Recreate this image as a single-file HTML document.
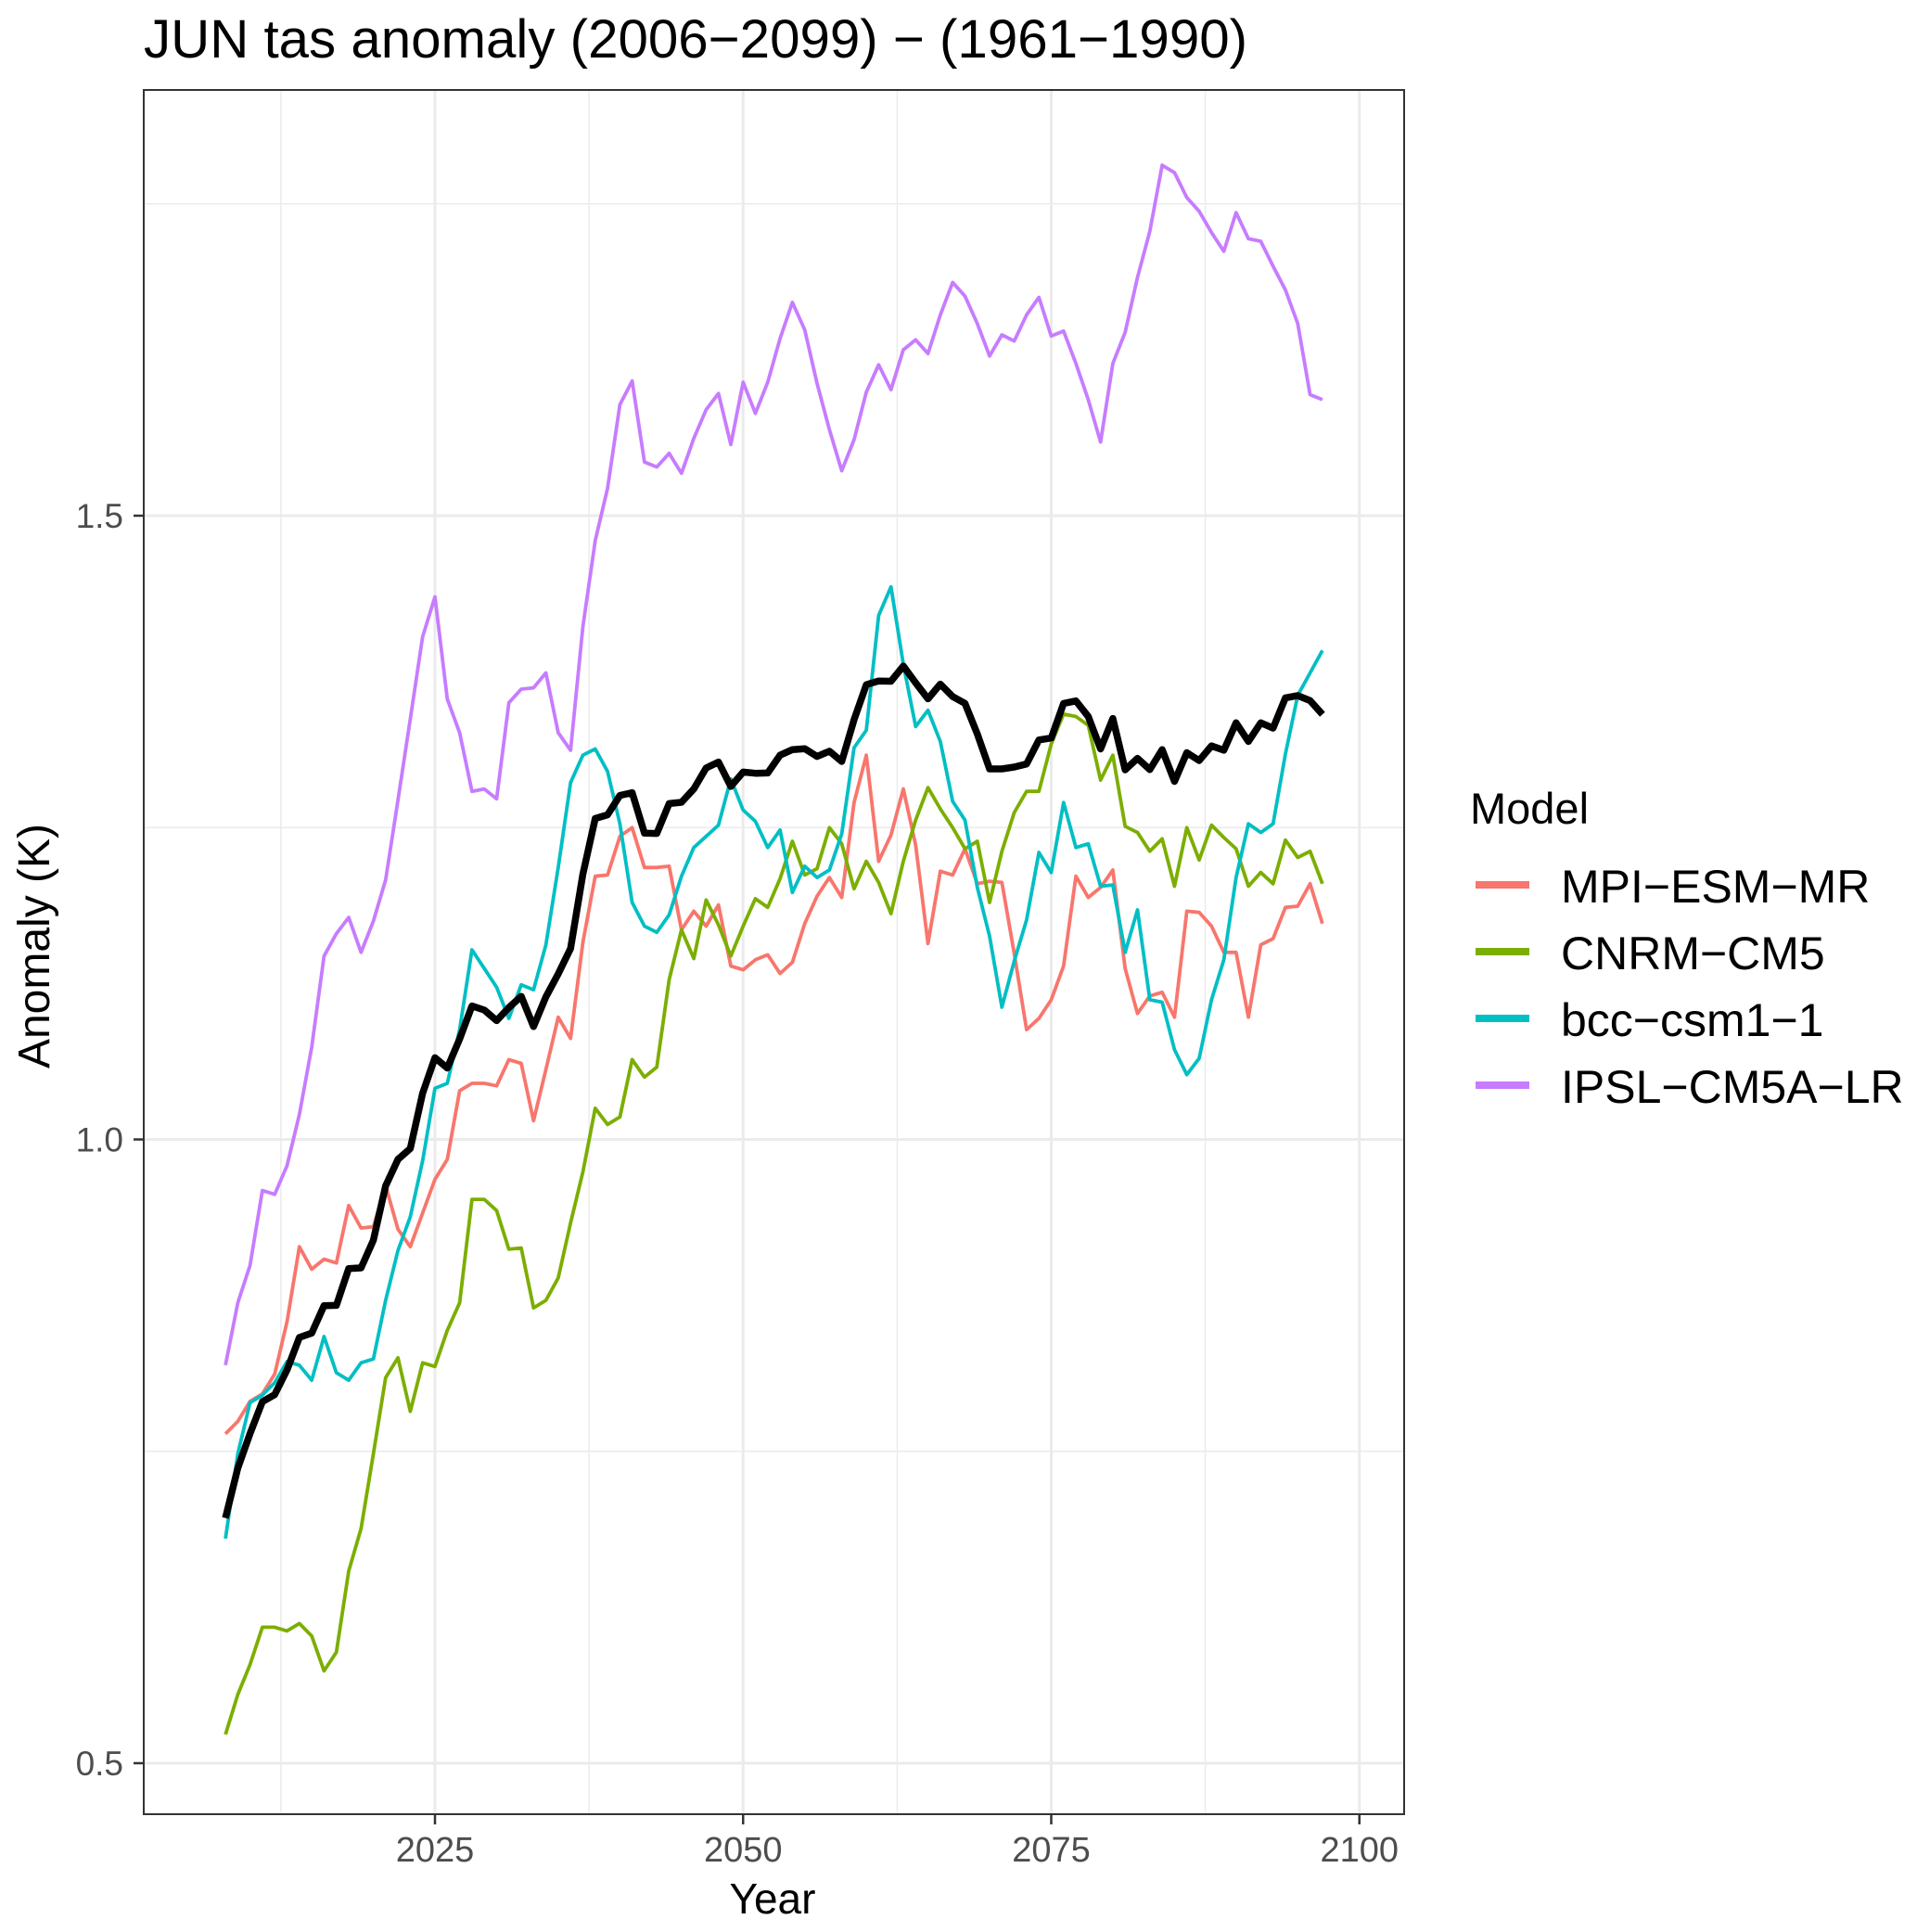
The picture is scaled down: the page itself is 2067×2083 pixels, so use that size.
<!DOCTYPE html>
<html><head><meta charset="utf-8">
<style>
html,body{margin:0;padding:0;background:#fff;}
svg{display:block;font-family:"Liberation Sans",Arial,sans-serif;}
</style></head>
<body>
<svg id="chart" width="2067" height="2083" viewBox="0 0 2067 2083" xmlns="http://www.w3.org/2000/svg">
<rect width="2067" height="2083" fill="#fff"/>
<text x="155" y="62" font-size="58" fill="#000" textLength="1190" lengthAdjust="spacingAndGlyphs">JUN tas anomaly (2006−2099) − (1961−1990)</text>
<g id="grid"></g>
<g id="series"></g>
<rect x="155" y="97" width="1359" height="1859" fill="none" stroke="#333" stroke-width="2"/>
<g id="axes"></g>
<text x="833" y="2063" font-size="46" text-anchor="middle" fill="#000">Year</text>
<text transform="translate(53,1020) rotate(-90)" font-size="48" text-anchor="middle" fill="#000">Anomaly (K)</text>
<g id="legend">
<text x="1585" y="888" font-size="47" fill="#000">Model</text>
</g>
</svg>
<script>
const years = [];
for (let y = 2008; y <= 2097; y++) years.push(y);
const seriesNames = ["MPI−ESM−MR","CNRM−CM5","bcc−csm1−1","IPSL−CM5A−LR"];
const seriesColors = ["#F8766D","#7CAE00","#00BFC4","#C77CFF"];
const xTicks = [2025,2050,2075,2100];
const yTicks = [0.5,1.0,1.5];
const yTickLabels = ["0.5","1.0","1.5"];
const mpi = [0.764,0.774,0.790,0.796,0.812,0.854,0.914,0.896,0.904,0.901,0.947,0.929,0.930,0.963,0.928,0.914,0.941,0.968,0.984,1.039,1.045,1.045,1.043,1.064,1.061,1.015,1.056,1.098,1.081,1.158,1.211,1.212,1.243,1.250,1.218,1.218,1.219,1.168,1.183,1.171,1.188,1.139,1.136,1.144,1.148,1.133,1.142,1.173,1.195,1.210,1.194,1.270,1.308,1.223,1.244,1.281,1.236,1.157,1.215,1.212,1.233,1.205,1.207,1.206,1.149,1.088,1.097,1.112,1.139,1.211,1.194,1.202,1.216,1.137,1.101,1.115,1.118,1.098,1.183,1.182,1.171,1.150,1.150,1.098,1.156,1.161,1.186,1.187,1.205,1.173];
const cnrm = [0.523,0.555,0.579,0.609,0.609,0.606,0.612,0.602,0.574,0.589,0.654,0.688,0.748,0.809,0.825,0.782,0.821,0.818,0.847,0.869,0.952,0.952,0.943,0.912,0.913,0.865,0.871,0.889,0.933,0.974,1.025,1.012,1.018,1.064,1.050,1.058,1.128,1.168,1.145,1.192,1.172,1.147,1.171,1.193,1.186,1.209,1.239,1.212,1.217,1.250,1.237,1.201,1.223,1.206,1.181,1.223,1.256,1.282,1.265,1.250,1.233,1.239,1.190,1.231,1.262,1.279,1.279,1.317,1.341,1.339,1.332,1.288,1.308,1.251,1.246,1.231,1.241,1.203,1.250,1.224,1.252,1.242,1.233,1.203,1.214,1.205,1.240,1.226,1.231,1.205];
const bcc = [0.680,0.748,0.789,0.795,0.805,0.822,0.819,0.807,0.842,0.813,0.807,0.821,0.824,0.871,0.911,0.938,0.983,1.041,1.045,1.088,1.152,1.137,1.122,1.097,1.124,1.120,1.156,1.218,1.286,1.308,1.313,1.295,1.253,1.190,1.171,1.166,1.180,1.211,1.234,1.243,1.252,1.289,1.264,1.255,1.234,1.248,1.198,1.219,1.210,1.216,1.245,1.314,1.328,1.420,1.443,1.381,1.331,1.344,1.319,1.271,1.256,1.202,1.163,1.106,1.143,1.176,1.230,1.214,1.270,1.234,1.237,1.203,1.204,1.150,1.184,1.112,1.110,1.072,1.052,1.065,1.112,1.144,1.210,1.253,1.246,1.253,1.309,1.356,1.374,1.392];
const ipsl = [0.819,0.869,0.899,0.959,0.956,0.979,1.020,1.074,1.147,1.165,1.178,1.150,1.175,1.208,1.272,1.337,1.403,1.435,1.353,1.326,1.279,1.281,1.273,1.350,1.361,1.362,1.374,1.326,1.312,1.411,1.480,1.522,1.589,1.608,1.543,1.539,1.550,1.534,1.562,1.585,1.598,1.557,1.607,1.582,1.607,1.642,1.671,1.649,1.606,1.569,1.536,1.561,1.599,1.621,1.601,1.633,1.641,1.630,1.661,1.687,1.676,1.654,1.628,1.645,1.640,1.661,1.675,1.644,1.648,1.622,1.593,1.559,1.622,1.647,1.691,1.728,1.781,1.775,1.755,1.744,1.727,1.712,1.743,1.722,1.720,1.700,1.681,1.654,1.597,1.593];
const allSeries = [mpi, cnrm, bcc, ipsl];

const NS = "http://www.w3.org/2000/svg";
const X0 = 155, X1 = 1514, Y0 = 97, Y1 = 1956;
function xScale(yr){ return 469 + (yr - 2025) * 13.29; }
function yScale(v){ return 1901 - (v - 0.5) * 1345; }
function mk(tag, attrs){ const e = document.createElementNS(NS, tag); for (const k in attrs) e.setAttribute(k, attrs[k]); return e; }

const grid = document.getElementById("grid");
const bg = mk("rect",{x:X0,y:Y0,width:X1-X0,height:Y1-Y0,fill:"#fff"});


grid.appendChild(bg);
const minorY = [];
for (let i = 0; i < yTicks.length; i++) minorY.push(yTicks[i] + 0.25);
minorY.push(yTicks[0] - 0.25);
minorY.forEach(v => {
  const yy = yScale(v); if (yy < Y0 || yy > Y1) return;
  const l = mk("line",{x1:X0,x2:X1,y1:yy,y2:yy,stroke:"#EBEBEB","stroke-width":1.5});
  
  
  grid.appendChild(l);
});
const minorX = [xTicks[0]-12.5];
xTicks.forEach(t => minorX.push(t + 12.5));
minorX.forEach(t => {
  const xx = xScale(t); if (xx < X0 || xx > X1) return;
  const l = mk("line",{x1:xx,x2:xx,y1:Y0,y2:Y1,stroke:"#EBEBEB","stroke-width":1.5});
  
  
  grid.appendChild(l);
});
yTicks.forEach(v => {
  const yy = yScale(v);
  const l = mk("line",{x1:X0,x2:X1,y1:yy,y2:yy,stroke:"#EBEBEB","stroke-width":3});
  
  
  grid.appendChild(l);
});
xTicks.forEach(t => {
  const xx = xScale(t);
  const l = mk("line",{x1:xx,x2:xx,y1:Y0,y2:Y1,stroke:"#EBEBEB","stroke-width":3});
  
  
  grid.appendChild(l);
});

const axes = document.getElementById("axes");
xTicks.forEach(t => {
  const xx = xScale(t);
  const tk = mk("line",{x1:xx,x2:xx,y1:Y1,y2:Y1+11,stroke:"#333","stroke-width":2.5});
  
  
  axes.appendChild(tk);
  const tx = mk("text",{x:xx,y:2007,"font-size":38,"text-anchor":"middle",fill:"#4D4D4D"});
  tx.textContent = String(t);
  
  
  axes.appendChild(tx);
});
yTicks.forEach((v, i) => {
  const yy = yScale(v);
  const tk = mk("line",{x1:X0-11,x2:X0,y1:yy,y2:yy,stroke:"#333","stroke-width":2.5});
  
  
  axes.appendChild(tk);
  const tx = mk("text",{x:133,y:yy+13,"font-size":37,"text-anchor":"end",fill:"#4D4D4D"});
  tx.textContent = yTickLabels[i];
  
  
  axes.appendChild(tx);
});

const sg = document.getElementById("series");
function linePath(vals){ return vals.map((v,i)=> (i?"L":"M") + xScale(years[i]).toFixed(1) + "," + yScale(v).toFixed(1)).join(""); }
allSeries.forEach((vals, k) => {
  const p = mk("path",{d:linePath(vals),fill:"none",stroke:seriesColors[k],"stroke-width":3.8,"stroke-linejoin":"round"});
  
  
  sg.appendChild(p);
});
const meanVals = years.map((y,i) => (mpi[i] + cnrm[i] + bcc[i] + ipsl[i]) / 4);
const mp = mk("path",{d:linePath(meanVals),fill:"none",stroke:"#000","stroke-width":7.5,"stroke-linejoin":"round"});


sg.appendChild(mp);

const lg = document.getElementById("legend");
seriesNames.forEach((n, k) => {
  const yy = 954 + k * 72;
  const l = mk("line",{x1:1591,x2:1649,y1:yy,y2:yy,stroke:seriesColors[k],"stroke-width":8});
  
  
  lg.appendChild(l);
  const t = mk("text",{x:1683,y:yy+19,"font-size":50,fill:"#000"});
  t.textContent = n;
  
  
  lg.appendChild(t);
});
</script>
</body></html>
